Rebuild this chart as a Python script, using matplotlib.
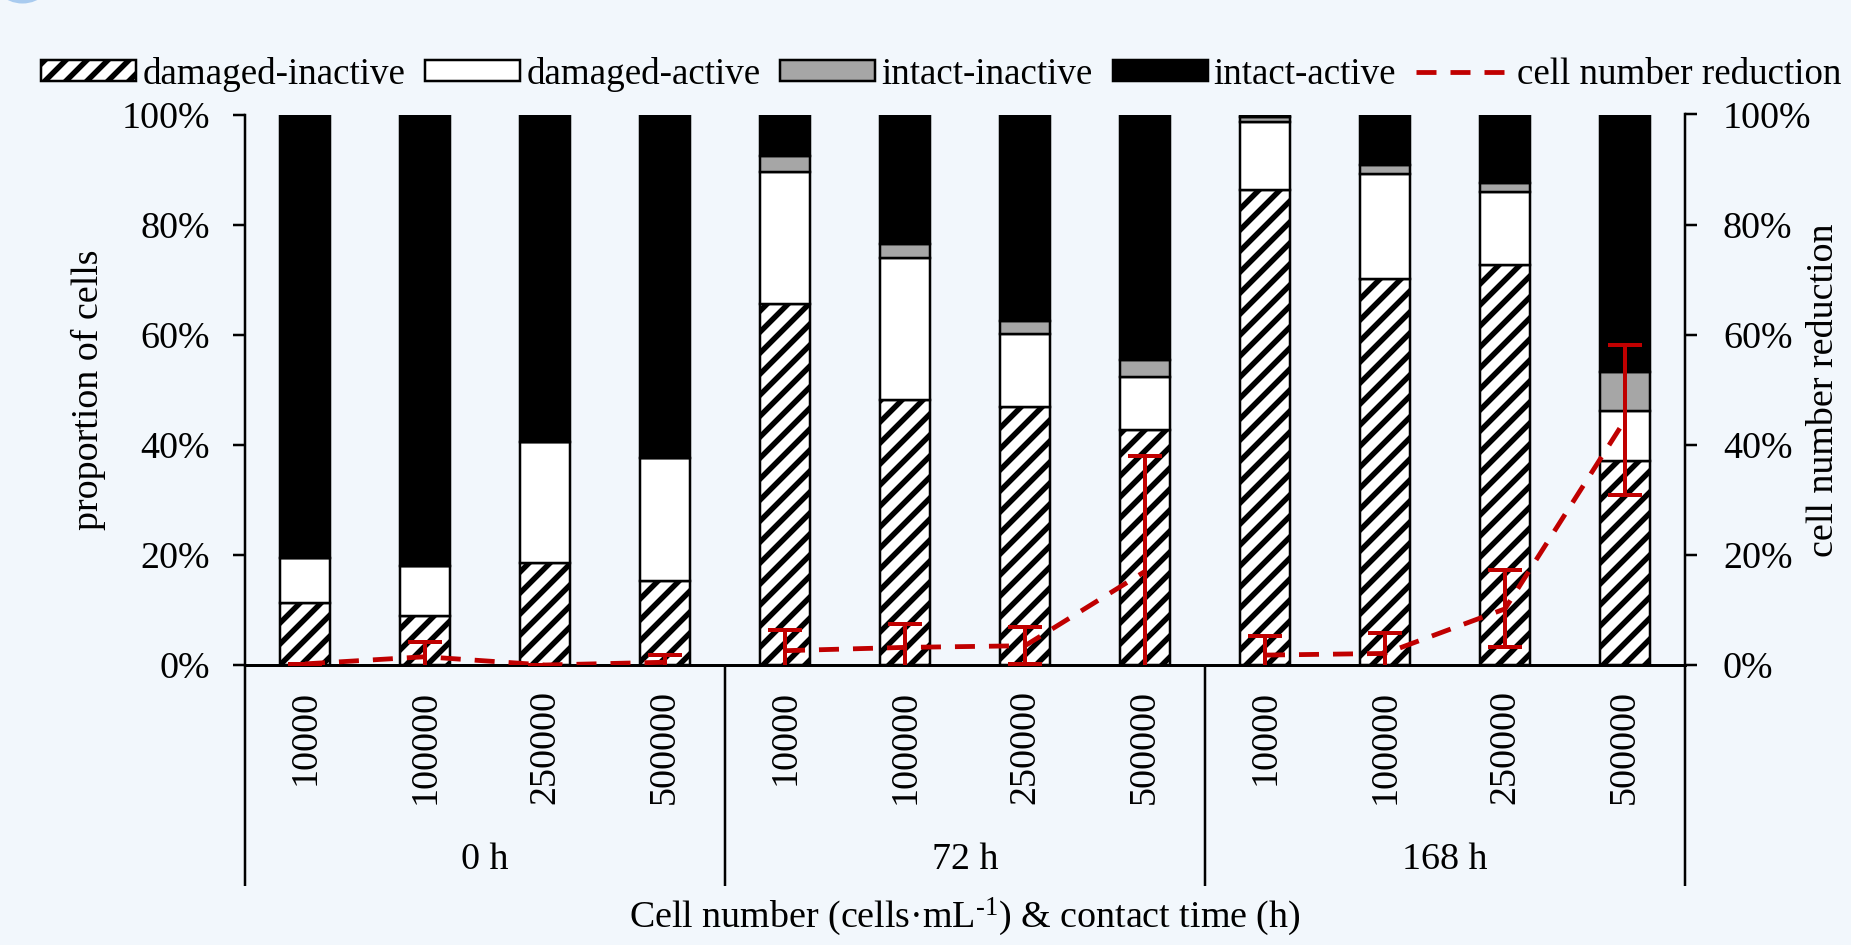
import matplotlib
matplotlib.use("Agg")
import matplotlib.pyplot as plt
import matplotlib.transforms as mtransforms
from matplotlib.patches import Ellipse
import numpy as np

# ---------------- data ----------------
cell_numbers = ["10000", "100000", "250000", "500000"] * 3
groups = ["0 h", "72 h", "168 h"]
damaged_inactive = [11.2, 8.9, 18.5, 15.3, 65.5, 48.2, 46.8, 42.7, 86.3, 70.2, 72.7, 37.1]
damaged_active = [8.3, 9.0, 22.0, 22.3, 24.0, 25.7, 13.3, 9.7, 12.3, 19.0, 13.2, 9.1]
intact_inactive = [0.0, 0.0, 0.0, 0.0, 3.0, 2.5, 2.3, 3.0, 1.0, 1.7, 1.6, 7.0]
reduction = [0.2, 1.5, 0.0, 0.5, 2.6, 3.2, 3.5, 17.0, 1.8, 2.1, 10.2, 44.5]
reduction_err = [0.0, 2.7, 0.0, 1.4, 3.8, 4.3, 3.4, 20.9, 3.5, 3.7, 7.0, 13.6]
yticks = [0, 20, 40, 60, 80, 100]

intact_active = [100 - a - b - c for a, b, c in zip(damaged_inactive, damaged_active, intact_inactive)]

# ---------------- style ----------------
W, H = 1851, 945
DPI = 126
P = 72.0 / DPI


def pt(px):
    return px * P


BG = "#F2F7FC"
RED = "#C00000"
GRAY = "#A6A6A6"
FS = pt(38)
LEG_PX = 37
FS_LEG = pt(LEG_PX)

plt.rcParams["font.family"] = ["Liberation Serif", "DejaVu Serif"]
plt.rcParams["mathtext.fontset"] = "custom"
plt.rcParams["mathtext.rm"] = "Liberation Serif"
plt.rcParams["mathtext.it"] = "Liberation Serif:italic"
plt.rcParams["hatch.linewidth"] = pt(5.5)

fig = plt.figure(figsize=(W / DPI, H / DPI), dpi=DPI, facecolor=BG)
ax = fig.add_axes([245 / W, 1 - 665 / H, 1440 / W, 550.5 / H])
ax.set_facecolor(BG)

x = np.arange(len(cell_numbers))
bw = 0.42
elw = pt(2.5)

b1 = ax.bar(x, damaged_inactive, bw, color="white", edgecolor="black", hatch="//",
            linewidth=elw, label="damaged-inactive")
bottom = np.array(damaged_inactive)
b2 = ax.bar(x, damaged_active, bw, bottom=bottom, color="white", edgecolor="black",
            linewidth=elw, label="damaged-active")
bottom = bottom + np.array(damaged_active)
b3 = ax.bar(x, intact_inactive, bw, bottom=bottom, color=GRAY, edgecolor="black",
            linewidth=elw, label="intact-inactive")
bottom = bottom + np.array(intact_inactive)
b4 = ax.bar(x, intact_active, bw, bottom=bottom, color="black", edgecolor="black",
            linewidth=elw, label="intact-active")

ax.set_xlim(-0.5, len(x) - 0.5)
ax.set_ylim(0, 100)
ax.set_yticks(yticks)
ax.set_yticklabels([f"{v}%" for v in yticks])
ax.set_xticks(x)
ax.set_xticklabels(cell_numbers, rotation=90)
ax.tick_params(axis="y", direction="out", length=pt(12), width=pt(2.5), pad=pt(23),
               labelsize=FS)
ax.tick_params(axis="x", length=0, pad=pt(25), labelsize=FS)
for s in ["top", "right"]:
    ax.spines[s].set_visible(False)
ax.spines["left"].set_linewidth(pt(2.5))
ax.spines["bottom"].set_linewidth(pt(3))

# secondary axis
ax2 = ax.twinx()
ax2.set_ylim(0, 100)
ax2.set_yticks(yticks)
ax2.set_yticklabels([f"{v}%" for v in yticks])
ax2.tick_params(axis="y", direction="out", length=pt(12), width=pt(2.5), pad=pt(26),
                labelsize=FS)
for s in ["top", "left", "bottom"]:
    ax2.spines[s].set_visible(False)
ax2.spines["right"].set_linewidth(pt(2.5))

lw_line = pt(4.8)
dash = (0, (20 / 4.8, 14 / 4.8))
line = None
for g in range(len(groups)):
    sl = slice(4 * g, 4 * g + 4)
    ln, = ax2.plot(x[sl], reduction[sl], color=RED, lw=lw_line, linestyle=dash)
    if line is None:
        line = ln
ax2.errorbar(x, reduction, yerr=reduction_err, fmt="none", ecolor=RED,
             elinewidth=pt(4), capsize=pt(17), capthick=pt(4))

# group separators and labels
trans = mtransforms.blended_transform_factory(ax.transData, ax.transAxes)
for xs in [-0.5, 3.5, 7.5, 11.5]:
    ax.plot([xs, xs], [0, -0.401], transform=trans, color="black", lw=pt(2.5),
            clip_on=False, solid_capstyle="butt")
for i, g in enumerate(groups):
    ax.text(4 * i + 1.5, -0.354, g, transform=trans, ha="center", va="center", fontsize=FS)

fig.text(88 / W, 1 - 390 / H, "proportion of cells", rotation=90, ha="center",
         va="center", fontsize=FS)
fig.text(1824 / W, 1 - 390 / H, "cell number reduction", rotation=90, ha="center",
         va="center", fontsize=FS)
fig.text(965 / W, 1 - 917 / H, r"Cell number (cells·mL$^{\text{-}1}$) & contact time (h)",
         ha="center", va="center", fontsize=FS)

fig.legend([b1, b2, b3, b4, line],
           ["damaged-inactive", "damaged-active", "intact-inactive", "intact-active",
            "cell number reduction"],
           loc="center", bbox_to_anchor=(941.5 / W, 1 - 74 / H), ncol=5, frameon=False,
           fontsize=FS_LEG, handlelength=95 / LEG_PX, handleheight=18 / LEG_PX,
           handletextpad=6 / LEG_PX, columnspacing=20 / LEG_PX, borderpad=0,
           borderaxespad=0)

# decorative circle at top-left corner
fig.add_artist(Ellipse((22.5 / W, 1 + 30 / H), 67 / W, 67 / H, transform=fig.transFigure,
                       color="#A9CBEF", lw=0))

fig.savefig("out.png", dpi=DPI, facecolor=BG)
